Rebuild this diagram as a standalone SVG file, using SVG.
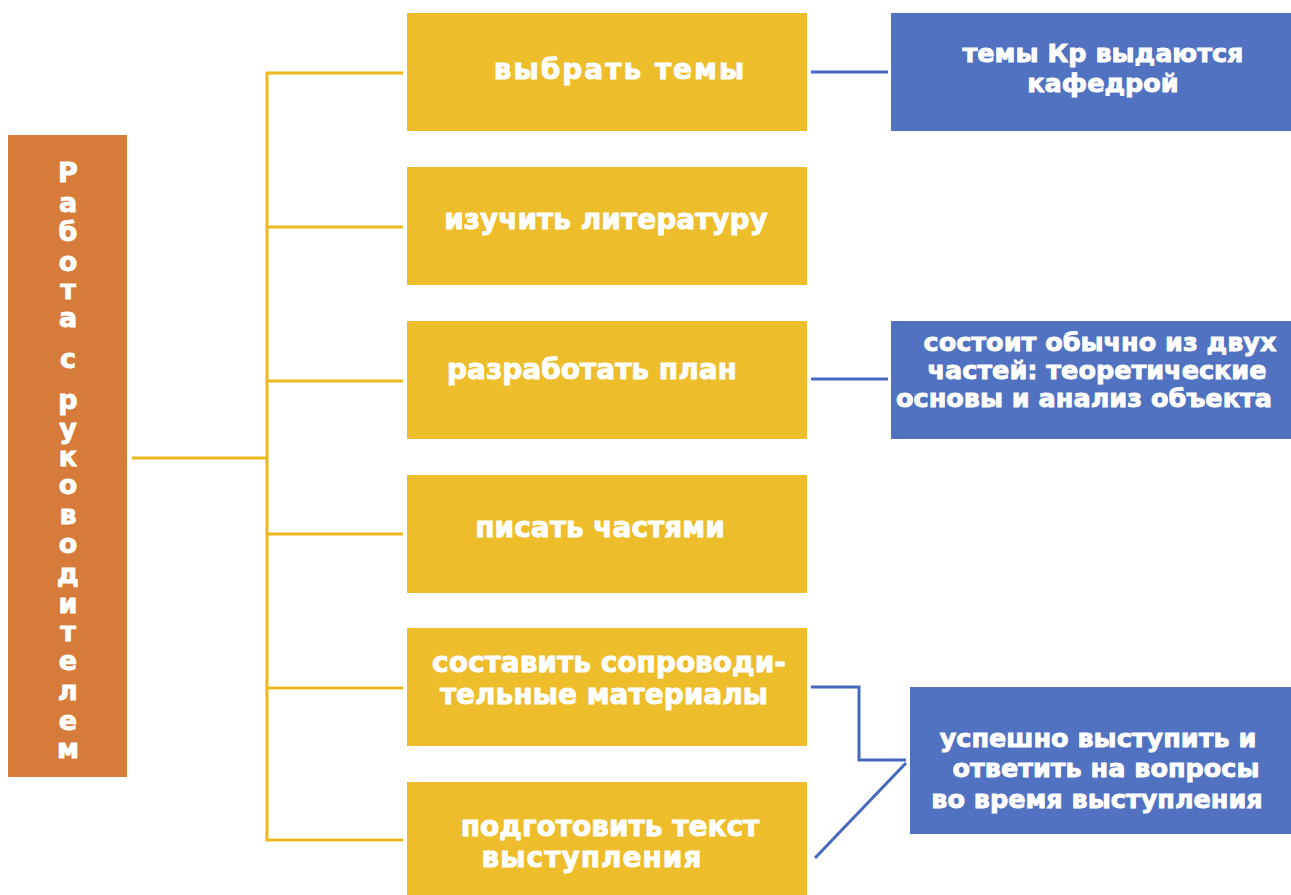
<svg xmlns="http://www.w3.org/2000/svg" width="1291" height="895" viewBox="0 0 1291 895">
<style>
.bg{fill:#ffffff}
.main{fill:#D67B3A}
.step{fill:#EDBD2B}
.note{fill:#5072C0}
.t{font-family:"DejaVu Sans","Liberation Sans",sans-serif;font-weight:bold;fill:#ffffff;stroke:#ffffff;stroke-width:0.9;text-anchor:middle}
.ty{font-size:28px}
.tb{font-size:25.5px}
.tv{font-size:27px}
.ly{stroke:#ECB81E;stroke-width:3;fill:none}
.lb{stroke:#4669BE;stroke-width:3;fill:none}
</style>
<rect class="bg" x="0" y="0" width="1291" height="895"/>
<g id="connectors">
<line class="ly" x1="132" y1="458" x2="267" y2="458"/>
<line class="ly" x1="267" y1="72" x2="267" y2="841"/>
<line class="ly" x1="266" y1="73" x2="403" y2="73"/>
<line class="ly" x1="266" y1="227" x2="403" y2="227"/>
<line class="ly" x1="266" y1="381" x2="403" y2="381"/>
<line class="ly" x1="266" y1="534" x2="403" y2="534"/>
<line class="ly" x1="266" y1="688" x2="403" y2="688"/>
<line class="ly" x1="266" y1="840" x2="403" y2="840"/>
<line class="lb" x1="811" y1="72" x2="888" y2="72"/>
<line class="lb" x1="811" y1="379" x2="888" y2="379"/>
<polyline class="lb" points="811,687 859,687 859,760 906,760"/>
<line class="lb" x1="906" y1="763" x2="815" y2="858"/>
</g>
<g id="node-main">
<rect class="main" x="8" y="135" width="119" height="642"/>
<text class="t tv" x="68" y="181.5">Р</text>
<text class="t tv" x="68" y="212">а</text>
<text class="t tv" x="68" y="241">б</text>
<text class="t tv" x="68" y="270.5">о</text>
<text class="t tv" x="68" y="299">т</text>
<text class="t tv" x="68" y="327">а</text>
<text class="t tv" x="68" y="368">с</text>
<text class="t tv" x="68" y="409">р</text>
<text class="t tv" x="68" y="437.5">у</text>
<text class="t tv" x="68" y="465.5">к</text>
<text class="t tv" x="68" y="494">о</text>
<text class="t tv" x="68" y="524">в</text>
<text class="t tv" x="68" y="552.5">о</text>
<text class="t tv" x="68" y="582.5">д</text>
<text class="t tv" x="68" y="613">и</text>
<text class="t tv" x="68" y="641">т</text>
<text class="t tv" x="68" y="669.5">е</text>
<text class="t tv" x="68" y="700">л</text>
<text class="t tv" x="68" y="730">е</text>
<text class="t tv" x="68" y="758">м</text>
</g>
<g id="node-1">
<rect class="step" x="407" y="13" width="400" height="118"/>
<text class="t ty" x="620" y="79" letter-spacing="2">выбрать темы</text>
</g>
<g id="node-2">
<rect class="step" x="407" y="167" width="400" height="118"/>
<text class="t ty" x="606" y="229">изучить литературу</text>
</g>
<g id="node-3">
<rect class="step" x="407" y="321" width="400" height="118"/>
<text class="t ty" x="592" y="379">разработать план</text>
</g>
<g id="node-4">
<rect class="step" x="407" y="475" width="400" height="118"/>
<text class="t ty" x="600" y="537">писать частями</text>
</g>
<g id="node-5">
<rect class="step" x="407" y="628" width="400" height="118"/>
<text class="t ty" x="609" y="672">составить сопроводи-</text>
<text class="t ty" x="604" y="704">тельные материалы</text>
</g>
<g id="node-6">
<rect class="step" x="407" y="782" width="400" height="113"/>
<text class="t ty" x="610" y="836">подготовить текст</text>
<text class="t ty" x="592" y="867" letter-spacing="1">выступления</text>
</g>
<g id="note-1">
<rect class="note" x="891" y="13" width="400" height="118"/>
<text class="t tb" x="1103" y="62">темы Кр выдаются</text>
<text class="t tb" x="1103" y="92">кафедрой</text>
</g>
<g id="note-2">
<rect class="note" x="891" y="321" width="400" height="118"/>
<text class="t tb" x="1100" y="351">состоит обычно из двух</text>
<text class="t tb" x="1097" y="379">частей: теоретические</text>
<text class="t tb" x="1084" y="407">основы и анализ объекта</text>
</g>
<g id="note-3">
<rect class="note" x="910" y="687" width="381" height="147"/>
<text class="t tb" x="1098" y="747">успешно выступить и</text>
<text class="t tb" x="1106" y="777">ответить на вопросы</text>
<text class="t tb" x="1097" y="808">во время выступления</text>
</g>
</svg>
